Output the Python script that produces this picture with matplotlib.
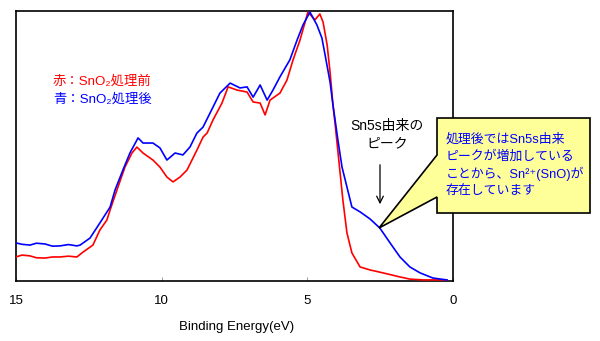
import matplotlib
matplotlib.use("Agg")
import matplotlib.pyplot as plt
from matplotlib.patches import Polygon

plt.rcParams['font.family'] = ['Liberation Sans', 'Noto Sans CJK JP', 'DejaVu Sans']

# Binding energy (eV) and intensity (arb. units)
red_energy = [15.00, 14.80, 14.52, 14.30, 14.00, 13.75, 13.49, 13.20, 12.91, 12.70,
              12.36, 12.12, 11.88, 11.77, 11.50, 11.26, 11.02, 10.85, 10.64, 10.30,
              10.06, 9.82, 9.61, 9.37, 9.13, 8.79, 8.58, 8.44, 8.24, 7.93,
              7.72, 7.41, 7.07, 6.86, 6.62, 6.45, 6.28, 5.94, 5.70, 5.49,
              5.25, 4.98, 4.74, 4.57, 4.46, 4.32, 4.22, 4.12, 4.05, 3.78,
              3.64, 3.47, 3.19, 2.85, 2.40, 1.82, 1.48, 1.03, 0.21]
red_intensity = [8.9, 9.6, 9.3, 8.6, 8.5, 8.9, 8.9, 9.2, 8.9, 10.7,
                 13.3, 18.9, 22.6, 26.3, 34.8, 42.2, 47.4, 49.6, 47.4, 44.8,
                 42.2, 38.5, 36.7, 38.5, 41.1, 48.5, 53.3, 54.8, 59.6, 65.9,
                 71.9, 70.7, 70.0, 66.3, 65.9, 61.5, 67.0, 69.6, 74.4, 81.9,
                 89.3, 99.6, 96.7, 98.9, 95.9, 87.4, 77.4, 65.2, 58.5, 30.0,
                 17.8, 10.4, 5.2, 4.1, 3.0, 1.5, 0.7, 0.4, 0.4]

blue_energy = [15.00, 14.80, 14.52, 14.30, 14.00, 13.75, 13.49, 13.20, 12.91, 12.80,
               12.46, 12.12, 11.77, 11.60, 11.33, 11.09, 10.81, 10.64, 10.30, 10.06,
               9.82, 9.54, 9.27, 9.03, 8.79, 8.58, 8.34, 8.00, 7.65, 7.31,
               7.07, 6.86, 6.62, 6.38, 6.18, 5.94, 5.60, 5.35, 5.15, 4.91,
               4.67, 4.50, 4.39, 4.22, 4.12, 3.95, 3.81, 3.64, 3.47, 3.19,
               2.85, 2.51, 2.16, 1.82, 1.48, 1.13, 0.69, 0.21]
blue_intensity = [14.1, 13.6, 13.3, 14.0, 13.7, 12.9, 13.0, 13.5, 13.0, 13.3,
                  15.9, 21.5, 27.4, 33.7, 41.1, 47.4, 53.0, 51.1, 51.1, 49.3,
                  44.8, 47.4, 46.7, 49.6, 54.8, 57.0, 62.2, 69.6, 73.3, 71.5,
                  71.9, 68.1, 72.6, 67.0, 70.7, 75.6, 81.9, 89.3, 94.8, 99.6,
                  94.8, 90.0, 83.7, 73.7, 65.2, 52.2, 42.2, 34.8, 27.4, 25.6,
                  23.0, 19.6, 14.1, 8.9, 5.2, 3.0, 1.1, 0.4]

x_ticks = [15, 10, 5, 0]
x_tick_labels = ["15", "10", "5", "0"]

W, H = 600, 341
fig = plt.figure(figsize=(W / 100, H / 100), dpi=100)

def fx(px):
    return px / W

def fy(py):
    return 1 - py / H

ax = fig.add_axes([fx(16), fy(281), fx(453) - fx(16), fy(11) - fy(281)])
ax.plot(red_energy, red_intensity, color='#FF0000', lw=1.2, zorder=3)
ax.plot(blue_energy, blue_intensity, color='#0000FF', lw=1.2, zorder=4)

ax.set_xlim(15, 0)
ax.set_ylim(0, 100)
ax.set_xticks(x_ticks)
ax.set_xticklabels(x_tick_labels, fontsize=9.5)
ax.set_yticks([])
ax.tick_params(axis='x', direction='in', length=3, width=0.6, color='#888888', pad=10)
for s in ax.spines.values():
    s.set_linewidth(1.2)
    s.set_color('black')
ax.set_xlabel("Binding Energy(eV)", fontsize=9.5)
ax.xaxis.set_label_coords((fx(237) - fx(16)) / (fx(453) - fx(16)),
                          (fy(327) - fy(281)) / (fy(11) - fy(281)))
ax.xaxis.label.set_va('center')

# legend texts
fig.text(fx(53), fy(81), "赤：SnO₂処理前", color='#FF0000', fontsize=9.6, va='center', ha='left')
fig.text(fx(53), fy(99), "青：SnO₂処理後", color='#0000FF', fontsize=9.6, va='center', ha='left')

# peak annotation
fig.text(fx(387), fy(126), "Sn5s由来の", color='black', fontsize=10, va='center', ha='center')
fig.text(fx(387), fy(143), "ピーク", color='black', fontsize=10, va='center', ha='center')
ax.annotate("", xy=(fx(380), fy(207)), xycoords='figure fraction',
            xytext=(fx(380), fy(162)), textcoords='figure fraction',
            arrowprops=dict(arrowstyle='->', color='black', lw=0.9,
                            mutation_scale=12))

# callout box with pointer
pts_px = [(437, 118), (590, 118), (590, 213), (437, 213), (437, 197),
          (379, 228), (437, 155), (437, 118)]
poly = Polygon([(fx(x), fy(y)) for x, y in pts_px], closed=True,
               transform=fig.transFigure, facecolor='#FFFF99',
               edgecolor='black', lw=1.2, zorder=10)
fig.patches.append(poly)

callout_lines = ["処理後ではSn5s由来", "ピークが増加している",
                 "ことから、Sn²⁺(SnO)が", "存在しています"]
for i, line in enumerate(callout_lines):
    fig.text(fx(446), fy(140 + i * 17), line, color='#0000FF', fontsize=9.3,
             va='center', ha='left', zorder=11)

fig.savefig("out.png", dpi=100)
